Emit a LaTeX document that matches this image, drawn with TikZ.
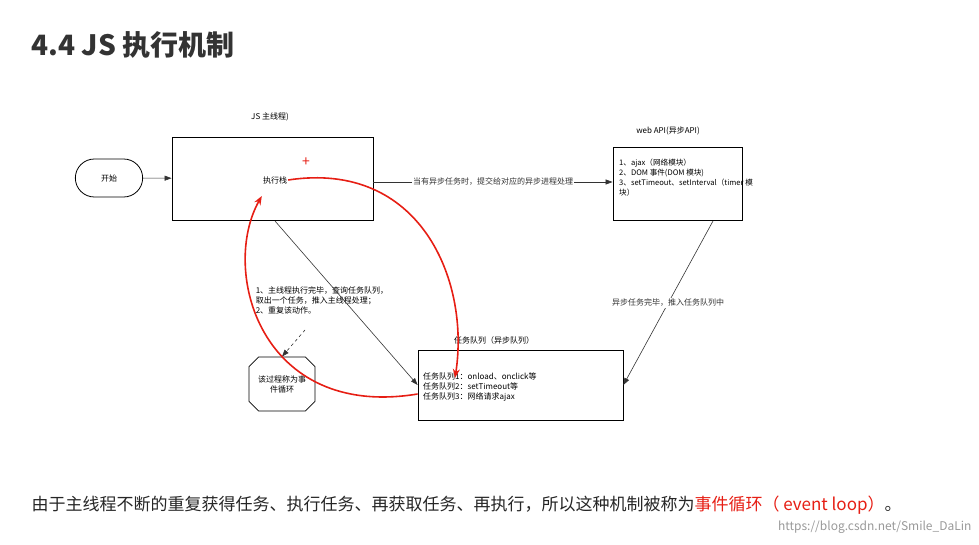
\documentclass[tikz,border=0pt]{standalone}
\usepackage{fontspec}
\setmainfont{Noto Sans CJK SC}
\usetikzlibrary{shapes.misc,arrows.meta}
\definecolor{hand}{RGB}{230,30,20}
\begin{document}
\begin{tikzpicture}
                [x=1pt, y=-1pt,
                box/.style={draw, thick, minimum width=#1},
                note/.style={font=\fontsize{8}{10}\selectfont, align=left, inner sep=1pt},
                edge/.style={draw, semithick, -{Triangle[length=7pt,width=5pt]}, color=black!80},
                pen/.style={draw=hand, line width=1.6pt, -{Stealth[length=9pt,width=7pt]}}]
                \useasboundingbox (0,0) rectangle (979,545);
                \node[anchor=west, font=\fontsize{28}{32}\selectfont\bfseries, text=black!80] (title) at (28,45) {4.4 JS 执行机制};
                % Define nodes
                \node[draw, thick, rounded rectangle, minimum width=74pt, minimum height=38pt, font=\fontsize{8}{10}\selectfont] (start) at (109,178) {开始};
                \node[box=201pt, minimum height=83pt] (main) at (272.5,178.5) {};
                \node[note] (stack) at (275,180) {执行栈};
                \node[text=hand, font=\fontsize{14}{14}\selectfont] (plus) at (306,162) {+};
                \node[note] (mainlbl) at (270,117) {JS 主线程)};
                \node[box=129pt, minimum height=73pt] (api) at (677.5,183.5) {};
                \node[note, anchor=north west, font=\fontsize{7.6}{10}\selectfont] (apitxt) at (618,158) {1、ajax（网络模块）\\2、DOM 事件(DOM 模块)\\3、setTimeout、setInterval（timer 模\\块）};
                \node[note] (apilbl) at (668,131) {web API(异步API)};
                \node[box=205pt, minimum height=70pt] (queue) at (520.5,385) {};
                \node[note, anchor=west] (qtxt) at (422,387) {任务队列1：onload、onclick等\\任务队列2：setTimeout等\\任务队列3：网络请求ajax};
                \node[note] (qlbl) at (494,340) {任务队列（异步队列）};
                \node[draw, thick, chamfered rectangle, chamfered rectangle xsep=6pt, minimum width=66pt, minimum height=54pt, note, align=center] (loop) at (282,384) {该过程称为事\\件循环};
                \node[note] (steps) at (322,300) {1、主线程执行完毕，查询任务队列，\\取出一个任务，推入主线程处理；\\2、重复该动作。};
                \coordinate (mainout) at (275,221);
                \coordinate (apiout) at (713,221);
                \coordinate (dash) at (305,330);
                % Define edges
                \draw[edge] (start) -- (main);
                \draw[edge] (main.east |- 0,182) -- node[note, fill=white] {当有异步任务时，提交给对应的异步进程处理} (api.west |- 0,182);
                \draw[edge] (apiout) -- node[note, fill=white, pos=0.5] {异步任务完毕，推入任务队列中} (queue.east);
                \draw[edge] (mainout) -- (queue.west);
                \draw[edge, dashed] (dash) -- (loop.north);
                \draw[pen] (stack.east) .. controls (420,160) and (470,280) .. (455,378);
                \draw[pen] (queue.west |- 0,394) .. controls (260,420) and (220,270) .. (stack.west |- 0,196);
                \node[anchor=west, font=\fontsize{17}{20}\selectfont, text=black!85] (bottom) at (28,505) {由于主线程不断的重复获得任务、执行任务、再获取任务、再执行，所以这种机制被称为\textcolor{hand}{事件循环（ event loop）}。};
                \node[anchor=east, text=black!40, font=\fontsize{12}{14}\selectfont] (mark) at (975,527) {https://blog.csdn.net/Smile\_DaLin};
            \end{tikzpicture}
\end{document}
